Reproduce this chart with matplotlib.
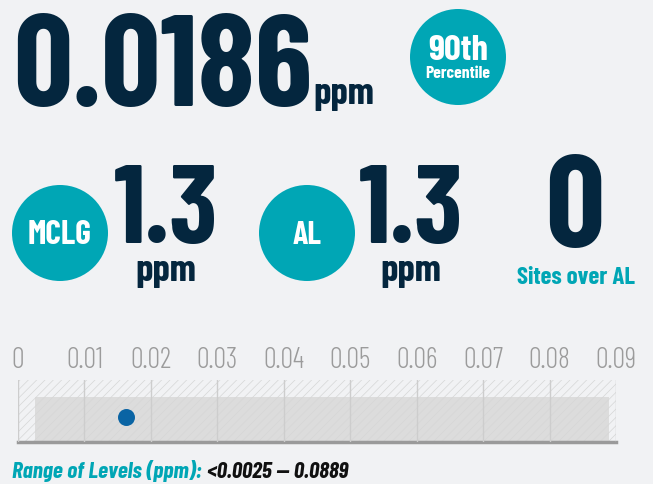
import matplotlib
matplotlib.use("Agg")
import matplotlib.pyplot as plt
import matplotlib.font_manager as fm
from matplotlib.patches import Circle, Rectangle
from matplotlib.transforms import blended_transform_factory

# ---------------- data ----------------
headline_value = "0.0186"
headline_unit = "ppm"
badge_lines = ["90th", "Percentile"]
mclg_label, mclg_value, mclg_unit = "MCLG", "1.3", "ppm"
al_label, al_value, al_unit = "AL", "1.3", "ppm"
sites_value, sites_label = "0", "Sites over AL"
tick_values = [0, 0.01, 0.02, 0.03, 0.04, 0.05, 0.06, 0.07, 0.08, 0.09]
tick_labels = ["0", "0.01", "0.02", "0.03", "0.04", "0.05", "0.06", "0.07", "0.08", "0.09"]
range_low, range_high = 0.0025, 0.0889
sample_points = [0.0162]
range_label = "Range of Levels (ppm):"
range_text = "<0.0025 \u2014 0.0889"

# ---------------- style ----------------
BG = "#f1f2f4"
NAVY = "#04263e"
TEAL = "#00a6b5"
GRAY_TXT = "#9b9b9b"
BLUE = "#0a64a4"

fams = {f.name for f in fm.fontManager.ttflist}
COND = next((c for c in ["Barlow Condensed", "Saira Condensed", "Fira Sans Extra Condensed",
                         "Roboto Condensed"] if c in fams), "DejaVu Sans")
FAM = [COND, "DejaVu Sans"]

W, H = 653, 484
fig = plt.figure(figsize=(W / 100, H / 100), dpi=100, facecolor=BG)
ax = fig.add_axes([0, 0, 1, 1])
ax.set_xlim(0, W)
ax.set_ylim(H, 0)
ax.axis("off")
renderer = fig.canvas.get_renderer()


def fit_text(x, y, s, target_w, **kw):
    """Place text with its font size chosen so the rendered width is target_w px."""
    t = ax.text(x, y, s, family=FAM, fontsize=100, va="baseline", **kw)
    w = t.get_window_extent(renderer=renderer).width
    t.set_fontsize(100 * target_w / w)
    return t


# headline
big = fit_text(13, 106, headline_value, 300, weight="bold", color=NAVY, ha="left")
fit_text(313, 104, headline_unit, 61, weight="bold", color=NAVY, ha="left")
ax.add_patch(Circle((458, 57), 48, color=TEAL, lw=0))
fit_text(458, 60, badge_lines[0], 60, weight="bold", color="white", ha="center")
fit_text(458, 78, badge_lines[1], 65, weight="bold", color="white", ha="center")

# second row
for cx, lab, lab_w, val, unit, vx in [(60, mclg_label, 64, mclg_value, mclg_unit, 166),
                                      (307, al_label, 29, al_value, al_unit, 411)]:
    ax.add_patch(Circle((cx, 233), 48, color=TEAL, lw=0))
    fit_text(cx, 244, lab, lab_w, weight="bold", color="white", ha="center")
    fit_text(vx, 243, val, 105, weight="bold", color=NAVY, ha="center")
    fit_text(vx, 281, unit, 61, weight="bold", color=NAVY, ha="center")

ax.text(575, 247, sites_value, family=FAM, weight="bold", color=NAVY,
        fontsize=big.get_fontsize(), ha="center", va="baseline")
fit_text(576, 284, sites_label, 118, weight="bold", color=TEAL, ha="center")

# range caption
t1 = fit_text(12, 478, range_label, 190, weight="bold", style="italic",
              color=TEAL, ha="left")
t2 = fit_text(207, 478, range_text, 141, weight="bold", style="italic",
              color="#111111", ha="left")

# ---------------- range chart ----------------
x0, x1, ytop, ybot = 18, 616, 380, 442
plt.rcParams["hatch.linewidth"] = 0.5
cax = fig.add_axes([x0 / W, (H - ybot) / H, (x1 - x0) / W, (ybot - ytop) / H])
cax.set_xlim(tick_values[0], tick_values[-1])
cax.set_ylim(0, 1)
cax.set_facecolor("none")
for s in ["top", "right", "left"]:
    cax.spines[s].set_visible(False)
cax.spines["bottom"].set_color("#9a9a9a")
cax.spines["bottom"].set_linewidth(2.5)
cax.tick_params(left=False, labelleft=False, bottom=False, labelbottom=False)

cax.add_patch(Rectangle((range_low, 0.02), range_high - range_low, 0.71,
                        facecolor="#dcdcdc", edgecolor="none", zorder=1))
cax.add_patch(Rectangle((tick_values[0], 0), tick_values[-1] - tick_values[0], 1,
                        facecolor="none", edgecolor="#d6d6d6", hatch="////",
                        lw=0, zorder=2))
for tv in tick_values:
    cax.axvline(tv, color="#cdcdcd", lw=1, zorder=3)

cax.scatter(sample_points, [0.40] * len(sample_points), s=(17 * 0.72) ** 2,
            color=BLUE, zorder=5, linewidths=0)

# tick labels above the bar
trans = blended_transform_factory(cax.transData, ax.transData)
tmp = ax.text(0, 0, tick_labels[-1], family=FAM, weight=300, fontsize=100)
tw = tmp.get_window_extent(renderer=renderer).width
tmp.remove()
tick_fs = 100 * 41 / tw
for tv, tl in zip(tick_values, tick_labels):
    ax.text(tv, 368, tl, family=FAM, weight=300, color=GRAY_TXT, fontsize=tick_fs,
            ha="center", va="baseline", transform=trans)

fig.savefig("out.png", dpi=100, facecolor=BG)
